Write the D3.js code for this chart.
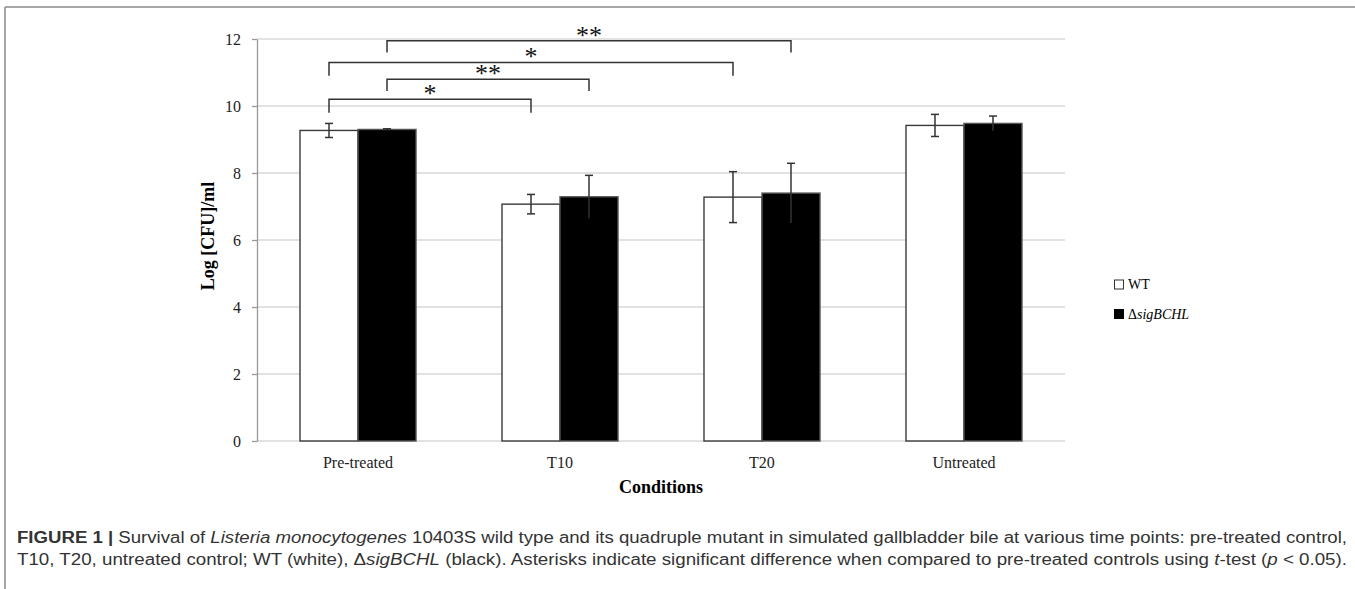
<!DOCTYPE html>
<html>
<head>
<meta charset="utf-8">
<script src="https://cdn.jsdelivr.net/npm/d3@7"></script>
<style>
  body { margin: 0; background: #fff; }
  svg { display: block; }
</style>
</head>
<body>
<svg id="chart" width="1355" height="589"></svg>
<script>
// data
const categories = ["Pre-treated", "T10", "T20", "Untreated"];
const seriesNames = ["WT", "ΔsigBCHL"];
const wtMeans = [9.27, 7.07, 7.28, 9.42];
const wtErr = [0.21, 0.29, 0.76, 0.33];
const mutMeans = [9.30, 7.29, 7.40, 9.48];
const mutErr = [0.02, 0.64, 0.89, 0.22];
const yTicks = [0, 2, 4, 6, 8, 10, 12];

// significance brackets: series index, from / to category index, level, tick drop
const bracketSeries = [0, 1, 0, 1];
const bracketFrom = [0, 0, 0, 0];
const bracketTo = [1, 1, 2, 2];
const bracketLevel = [10.2, 10.8, 11.3, 11.95];
const bracketDrop = [0.4, 0.35, 0.4, 0.35];
const bracketLabel = ["*", "**", "*", "**"];

const svg = d3.select("#chart");
const plotL = 257, plotR = 1065, plotT = 39, plotB = 441;

// figure frame
svg.append("line").attr("x1", 5).attr("x2", 1355).attr("y1", 7).attr("y2", 7)
    .attr("stroke", "#8a8a8a").attr("stroke-width", 1.5);
svg.append("line").attr("x1", 5).attr("x2", 5).attr("y1", 7).attr("y2", 589)
    .attr("stroke", "#8a8a8a").attr("stroke-width", 1.5);

const x = d3.scaleBand().domain(categories).range([plotL, plotR])
    .paddingInner(0.4257).paddingOuter(0.2129);
const xs = d3.scaleBand().domain([0, 1]).range([0, x.bandwidth()]);
const y = d3.scaleLinear().domain([0, 12]).range([plotB, plotT]);

// gridlines
svg.append("g").selectAll("line").data(yTicks).enter().append("line")
    .attr("x1", plotL).attr("x2", plotR)
    .attr("y1", d => y(d)).attr("y2", d => y(d))
    .attr("stroke", "#d9d9d9").attr("stroke-width", 1.3);

// y axis
const yAxis = svg.append("g").attr("transform", `translate(${plotL},0)`)
    .call(d3.axisLeft(y).tickValues(yTicks).tickSize(5).tickPadding(11).tickSizeOuter(0));
yAxis.select(".domain").attr("stroke", "#999").attr("stroke-width", 1.3);
yAxis.selectAll(".tick line").attr("stroke", "#999").attr("stroke-width", 1.3);
yAxis.selectAll(".tick text").attr("font-family", "Liberation Serif").attr("font-size", 16).attr("fill", "#222");

// bars
const rows = categories.map((c, i) => ({
    cat: c,
    vals: [
        { s: 0, v: wtMeans[i], e: wtErr[i] },
        { s: 1, v: mutMeans[i], e: mutErr[i] }
    ]
}));

const groups = svg.append("g").selectAll("g").data(rows).enter().append("g")
    .attr("transform", d => `translate(${x(d.cat)},0)`);

groups.selectAll("rect").data(d => d.vals).enter().append("rect")
    .attr("x", d => xs(d.s))
    .attr("width", xs.bandwidth())
    .attr("y", d => y(d.v))
    .attr("height", d => y(0) - y(d.v))
    .attr("fill", d => d.s === 0 ? "#fff" : "#000")
    .attr("stroke", d => d.s === 0 ? "#3a3a3a" : "#555")
    .attr("stroke-width", 1.4);

// error bars
const eb = groups.selectAll("g.err").data(d => d.vals).enter().append("g").attr("class", "err")
    .attr("stroke", "#333").attr("stroke-width", 1.5);
eb.append("line")
    .attr("x1", d => xs(d.s) + xs.bandwidth() / 2).attr("x2", d => xs(d.s) + xs.bandwidth() / 2)
    .attr("y1", d => y(d.v - d.e)).attr("y2", d => y(d.v + d.e));
eb.append("line")
    .attr("x1", d => xs(d.s) + xs.bandwidth() / 2 - 4).attr("x2", d => xs(d.s) + xs.bandwidth() / 2 + 4)
    .attr("y1", d => y(d.v + d.e)).attr("y2", d => y(d.v + d.e));
eb.filter(d => d.s === 0).append("line")
    .attr("x1", d => xs(d.s) + xs.bandwidth() / 2 - 4).attr("x2", d => xs(d.s) + xs.bandwidth() / 2 + 4)
    .attr("y1", d => y(d.v - d.e)).attr("y2", d => y(d.v - d.e));

// brackets
const cx = (cat, s) => x(categories[cat]) + xs(s) + xs.bandwidth() / 2;
const br = svg.append("g");
bracketLabel.forEach((lab, i) => {
    const x1 = cx(bracketFrom[i], bracketSeries[i]);
    const x2 = cx(bracketTo[i], bracketSeries[i]);
    const yl = y(bracketLevel[i]);
    const yd = y(bracketLevel[i] - bracketDrop[i]);
    br.append("path")
        .attr("d", `M${x1},${yd}V${yl}H${x2}V${yd}`)
        .attr("fill", "none").attr("stroke", "#333").attr("stroke-width", 1.5);
    br.append("text")
        .attr("x", (x1 + x2) / 2).attr("y", yl + 3)
        .attr("text-anchor", "middle")
        .attr("font-family", "Liberation Serif").attr("font-size", 26)
        .attr("fill", "#111")
        .text(lab);
});

// x labels
svg.append("g").selectAll("text").data(categories).enter().append("text")
    .attr("x", d => x(d) + x.bandwidth() / 2).attr("y", 468)
    .attr("text-anchor", "middle")
    .attr("font-family", "Liberation Serif").attr("font-size", 16).attr("fill", "#222")
    .text(d => d);

// axis titles
svg.append("text")
    .attr("x", (plotL + plotR) / 2).attr("y", 493)
    .attr("text-anchor", "middle")
    .attr("font-family", "Liberation Serif").attr("font-size", 18).attr("font-weight", "bold")
    .text("Conditions");
svg.append("text")
    .attr("transform", "translate(214,236) rotate(-90)")
    .attr("text-anchor", "middle")
    .attr("font-family", "Liberation Serif").attr("font-size", 18).attr("font-weight", "bold")
    .text("Log [CFU]/ml");

// legend
const lg = svg.append("g").attr("transform", "translate(1114,0)");
lg.append("rect").attr("x", 0.5).attr("y", 280).attr("width", 9).attr("height", 9)
    .attr("fill", "#fff").attr("stroke", "#333").attr("stroke-width", 1);
lg.append("text").attr("x", 14).attr("y", 289)
    .attr("font-family", "Liberation Serif").attr("font-size", 14).text("WT");
lg.append("rect").attr("x", 0).attr("y", 309).attr("width", 10).attr("height", 10).attr("fill", "#000");
const lt = lg.append("text").attr("x", 14).attr("y", 319)
    .attr("font-family", "Liberation Serif").attr("font-size", 14);
lt.append("tspan").text("Δ");
lt.append("tspan").attr("font-style", "italic").text("sigBCHL");

// caption
const cap = svg.append("g").attr("font-family", "Liberation Sans Narrow, Liberation Sans")
    .attr("font-size", 16).attr("fill", "#333");
const l1 = cap.append("text").attr("x", 17).attr("y", 543)
    .attr("textLength", 1330).attr("lengthAdjust", "spacingAndGlyphs");
l1.append("tspan").attr("font-weight", "bold").text("FIGURE 1 | ");
l1.append("tspan").text("Survival of ");
l1.append("tspan").attr("font-style", "italic").text("Listeria monocytogenes");
l1.append("tspan").text(" 10403S wild type and its quadruple mutant in simulated gallbladder bile at various time points: pre-treated control,");
const l2 = cap.append("text").attr("x", 17).attr("y", 565)
    .attr("textLength", 1330).attr("lengthAdjust", "spacingAndGlyphs");
l2.append("tspan").text("T10, T20, untreated control; WT (white), Δ");
l2.append("tspan").attr("font-style", "italic").text("sigBCHL");
l2.append("tspan").text(" (black). Asterisks indicate significant difference when compared to pre-treated controls using ");
l2.append("tspan").attr("font-style", "italic").text("t");
l2.append("tspan").text("-test (");
l2.append("tspan").attr("font-style", "italic").text("p");
l2.append("tspan").text(" < 0.05).");
</script>
</body>
</html>
